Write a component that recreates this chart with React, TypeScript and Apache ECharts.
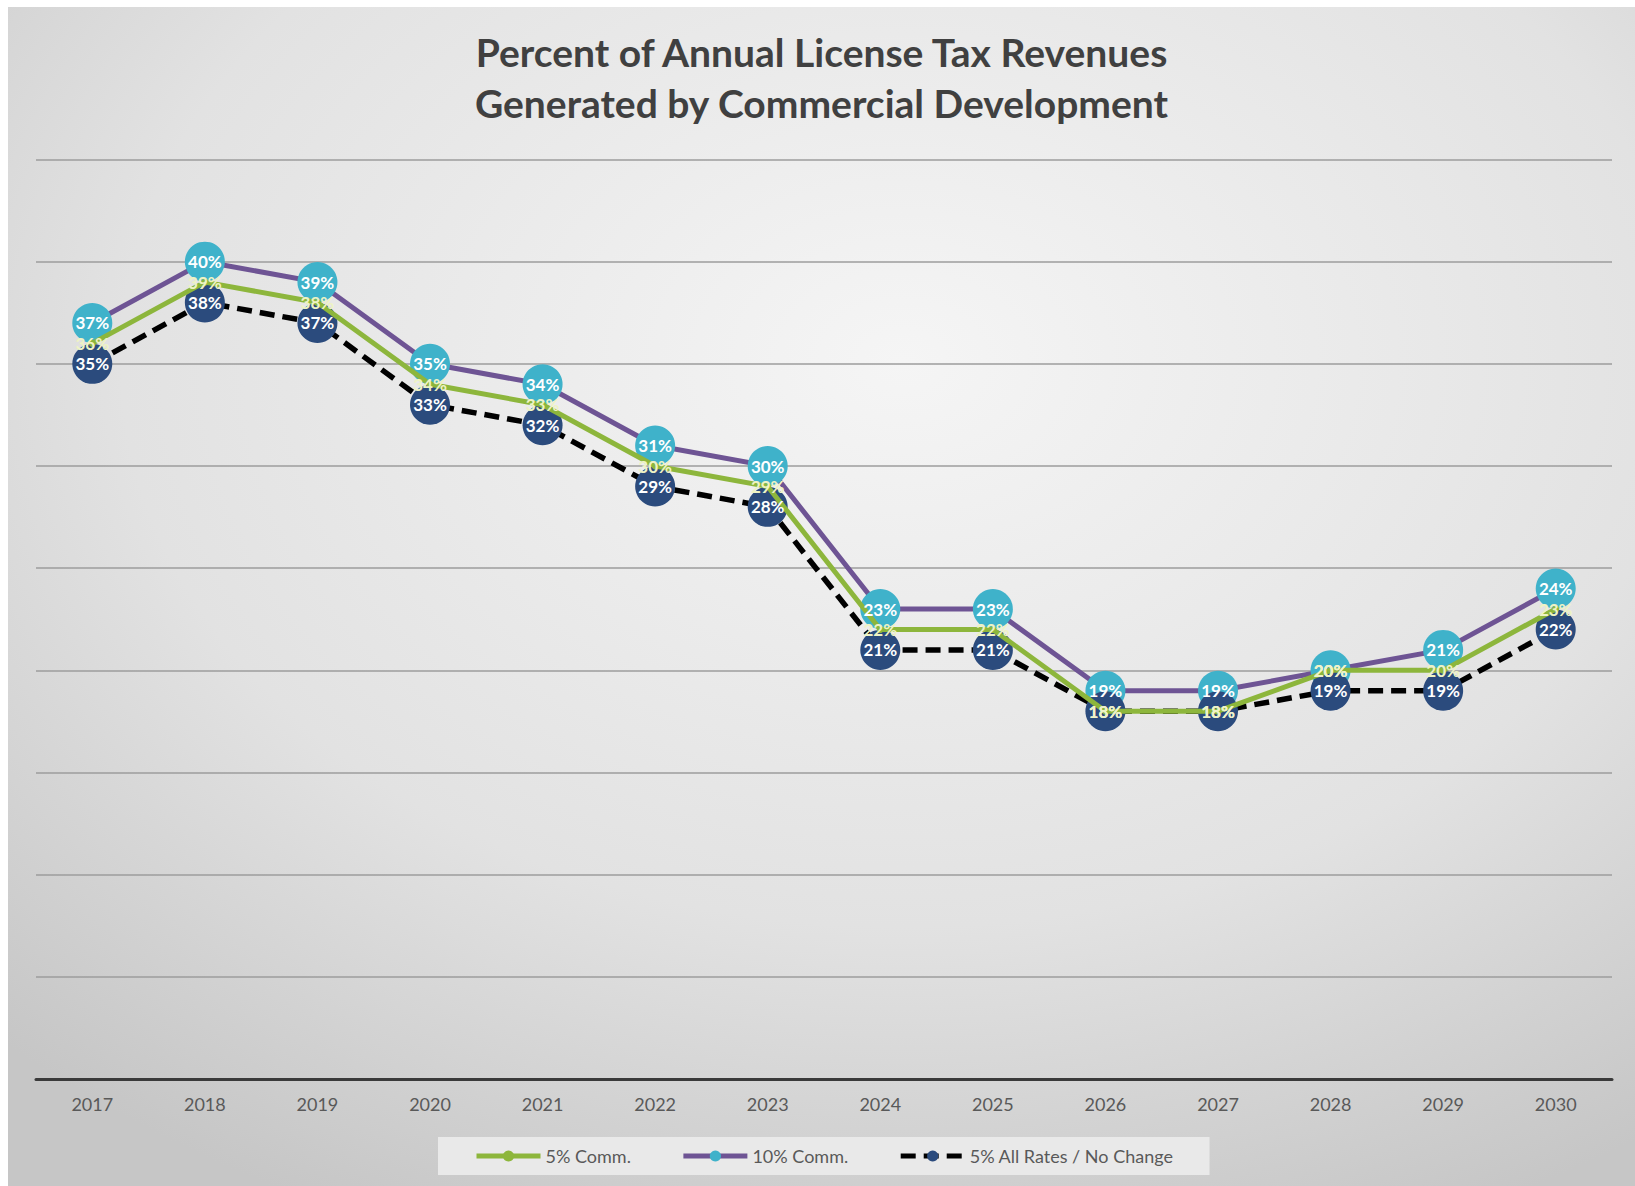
import React, { useEffect, useRef } from "react";
import * as echarts from "echarts";

const years = ["2017","2018","2019","2020","2021","2022","2023","2024","2025","2026","2027","2028","2029","2030"];
const comm5 = [36,39,38,34,33,30,29,22,22,18,18,20,20,23];
const comm10 = [37,40,39,35,34,31,30,23,23,19,19,20,21,24];
const allRates = [35,38,37,33,32,29,28,21,21,18,18,19,19,22];

const FONT = "Lato, 'Open Sans', sans-serif";

export default function App() {
  const ref = useRef<HTMLDivElement>(null);
  useEffect(() => {
    const chart = echarts.init(ref.current!, null, { renderer: "svg" });
    const labelSeries = (id: string, data: number[], color: string, z: number) => ({
      id,
      type: "line",
      data,
      z,
      symbol: "circle",
      symbolSize: 1,
      itemStyle: { color: "rgba(0,0,0,0)" },
      lineStyle: { width: 0, opacity: 0 },
      silent: true,
      label: {
        show: true,
        position: "inside",
        formatter: "{c}%",
        color,
        fontSize: 17,
        fontWeight: "bold",
        fontFamily: FONT,
      },
    });
    chart.setOption({
      animation: false,
      backgroundColor: {
        type: "radial",
        x: 0.55,
        y: 0.3,
        r: 0.8,
        colorStops: [
          { offset: 0, color: "#f5f5f5" },
          { offset: 0.6, color: "#e2e2e2" },
          { offset: 1, color: "#c6c6c6" },
        ],
      },
      title: {
        text: "Percent of Annual License Tax Revenues\nGenerated by Commercial Development",
        left: "center",
        top: 14,
        textStyle: {
          fontFamily: FONT,
          fontSize: 39,
          fontWeight: "bold",
          color: "#404040",
          lineHeight: 51,
        },
      },
      grid: { left: 28, right: 23, top: 152.5, bottom: 107 },
      legend: {
        data: ["5% Comm.", "10% Comm.", "5% All Rates / No Change"],
        left: 430,
        top: 1130,
        itemWidth: 64,
        itemHeight: 14,
        itemGap: 50,
        padding: [10, 36, 10, 36],
        backgroundColor: "#e9e9e9",
        lineStyle: { width: 5 },
        textStyle: { fontFamily: FONT, fontSize: 18, color: "#595959" },
      },
      xAxis: {
        type: "category",
        data: years,
        boundaryGap: true,
        axisLine: { lineStyle: { color: "#3a3a3a", width: 3 } },
        axisTick: { show: false },
        axisLabel: { color: "#595959", fontSize: 18, fontFamily: FONT, margin: 16 },
      },
      yAxis: {
        type: "value",
        min: 0,
        max: 45,
        interval: 5,
        axisLabel: { show: false },
        axisLine: { show: false },
        axisTick: { show: false },
        splitLine: { lineStyle: { color: "#9c9c9c", width: 1.5 } },
      },
      series: [
        {
          name: "10% Comm.",
          type: "line",
          data: comm10,
          z: 2,
          symbol: "circle",
          symbolSize: 40,
          itemStyle: { color: "#3fb2ca" },
          lineStyle: { color: "#6e5494", width: 5 },
        },
        {
          name: "5% All Rates / No Change",
          type: "line",
          data: allRates,
          z: 3,
          symbol: "circle",
          symbolSize: 40,
          itemStyle: { color: "#2b4b7d" },
          lineStyle: { color: "#000000", width: 5.5, type: [15, 8] },
        },
        {
          name: "5% Comm.",
          type: "line",
          data: comm5,
          z: 4,
          symbol: "circle",
          symbolSize: 7,
          itemStyle: { color: "#8db63c" },
          lineStyle: { color: "#8db63c", width: 5 },
        },
        labelSeries("lbl10", comm10, "#ffffff", 10),
        labelSeries("lblAll", allRates, "#ffffff", 10),
        labelSeries("lbl5", comm5, "#eef3c4", 11),
      ],
    });
    return () => chart.dispose();
  }, []);
  return (
    <div style={{ position: "fixed", left: 0, top: 0, width: 1635, height: 1186, background: "#ffffff" }}>
      <div ref={ref} style={{ position: "absolute", left: 8, top: 7, width: 1627, height: 1179 }} />
    </div>
  );
}
